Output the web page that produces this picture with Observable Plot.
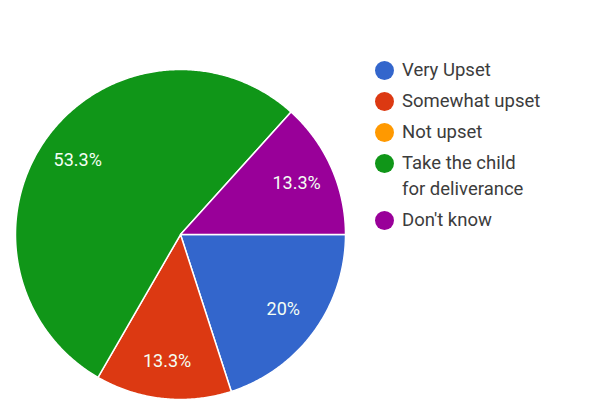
<!DOCTYPE html>
<html>
<head>
<meta charset="utf-8">
<script src="https://cdn.jsdelivr.net/npm/d3@7"></script>
<script src="https://cdn.jsdelivr.net/npm/@observablehq/plot@0.6"></script>
<style>
  html, body { margin: 0; padding: 0; background: #fff; }
  #wrap { position: relative; width: 589px; height: 401px; overflow: hidden; font-family: Roboto, sans-serif; }
  #legend { position: absolute; left: 375px; top: 57px; color: #3c3c3c; font-size: 18.5px; line-height: 26px; }
  .item { display: flex; align-items: flex-start; margin-bottom: 5px; }
  .sw { width: 19px; height: 19px; border-radius: 50%; margin: 4px 8px 0 0; flex: none; }
</style>
</head>
<body>
<div id="wrap"></div>
<script>
// Data
const categories = ["Very Upset", "Somewhat upset", "Not upset", "Take the child for deliverance", "Don't know"];
const legendLines = [["Very Upset"], ["Somewhat upset"], ["Not upset"], ["Take the child", "for deliverance"], ["Don't know"]];
const percents = [20, 13.3, 0, 53.3, 13.3];
const labels = ["20%", "13.3%", "", "53.3%", "13.3%"];
const colors = ["#3366cc", "#dc3912", "#ff9900", "#109618", "#990099"];

// Layout
const W = 589, H = 401;
const cx = 180, cy = 234, R = 165;
const labelFrac = 0.77;

const pie = d3.pie().sort(null).value(d => d.value).startAngle(Math.PI / 2).endAngle(Math.PI / 2 + 2 * Math.PI);
const rows = categories.map((c, i) => ({cat: c, value: percents[i], label: labels[i]}));
const arcs = pie(rows);

// Polygon vertices of each slice (in unit-radius coordinates, y up)
const pts = [];
for (const a of arcs) {
  if (a.data.value <= 0) continue;
  pts.push({cat: a.data.cat, x: 0, y: 0});
  const n = Math.max(2, Math.ceil((a.endAngle - a.startAngle) / (Math.PI / 360)));
  for (let k = 0; k <= n; k++) {
    const t = a.startAngle + (a.endAngle - a.startAngle) * k / n;
    pts.push({cat: a.data.cat, x: Math.sin(t), y: Math.cos(t)});
  }
}
const labelPts = arcs.filter(a => a.data.value > 0).map(a => {
  const m = (a.startAngle + a.endAngle) / 2;
  return {cat: a.data.cat, label: a.data.label, x: labelFrac * Math.sin(m), y: labelFrac * Math.cos(m)};
});

const chart = Plot.plot({
  width: W, height: H,
  margin: 0,
  style: {background: "#fff", fontFamily: "Roboto, sans-serif"},
  x: {domain: [-cx / R, (W - cx) / R], axis: null},
  y: {domain: [-(H - cy) / R, cy / R], axis: null},
  color: {domain: categories, range: colors},
  marks: [
    Plot.line(pts, {x: "x", y: "y", z: "cat", fill: "cat", stroke: "white", strokeWidth: 1.5, curve: "linear-closed", strokeLinejoin: "round"}),
    Plot.text(labelPts, {x: "x", y: "y", text: "label", fill: "#f4fff4", fontSize: 18, fontFamily: "Roboto, sans-serif"})
  ]
});

const wrap = document.getElementById("wrap");
wrap.appendChild(chart);

const legend = document.createElement("div");
legend.id = "legend";
categories.forEach((c, i) => {
  const item = document.createElement("div");
  item.className = "item";
  const sw = document.createElement("div");
  sw.className = "sw";
  sw.style.background = colors[i];
  const tx = document.createElement("div");
  tx.innerHTML = legendLines[i].join("<br>");
  item.appendChild(sw);
  item.appendChild(tx);
  legend.appendChild(item);
});
wrap.appendChild(legend);
</script>
</body>
</html>
